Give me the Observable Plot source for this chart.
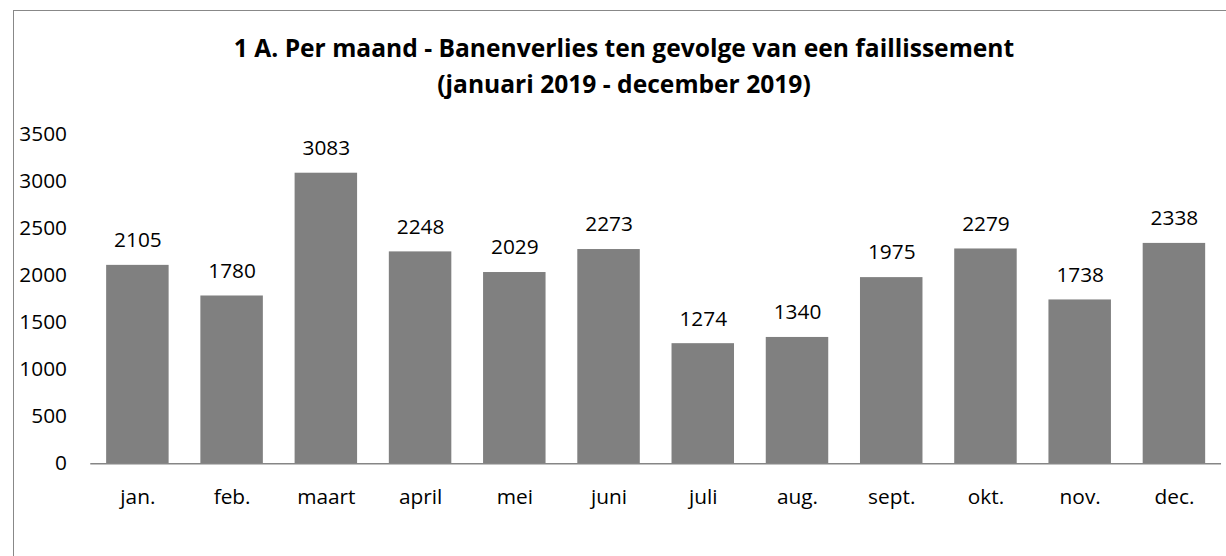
<!DOCTYPE html>
<html>
<head>
<meta charset="utf-8">
<script src="https://cdn.jsdelivr.net/npm/d3@7"></script>
<script src="https://cdn.jsdelivr.net/npm/@observablehq/plot@0.6"></script>
<style>
  html, body { margin: 0; padding: 0; background: #fff; overflow: hidden; width: 1226px; height: 556px; }
  #frame { position: absolute; left: 13px; top: 10px; width: 1300px; height: 700px; border: 1.5px solid #888; box-sizing: border-box; }
  #title { position: absolute; left: 124px; width: 1000px; top: 30px; text-align: center; font-family: "Open Sans", sans-serif; font-weight: bold; font-size: 24.6px; line-height: 35.5px; color: #000; white-space: nowrap; }
  #chart { position: absolute; left: 0; top: 0; }
</style>
</head>
<body>
<div id="frame"></div>
<div id="chart"></div>
<div id="title">1 A. Per maand - Banenverlies ten gevolge van een faillissement<br>(januari 2019 - december 2019)</div>
<script>
const months = ["jan.", "feb.", "maart", "april", "mei", "juni", "juli", "aug.", "sept.", "okt.", "nov.", "dec."];
const values = [2105, 1780, 3083, 2248, 2029, 2273, 1274, 1340, 1975, 2279, 1738, 2338];
const yTicks = [0, 500, 1000, 1500, 2000, 2500, 3000, 3500];

const data = months.map((m, i) => ({month: m, value: values[i]}));

const chart = Plot.plot({
  width: 1236,
  height: 527,
  marginLeft: 91,
  marginRight: 5,
  marginTop: 134.5,
  marginBottom: 60,
  style: { fontFamily: "'Open Sans', sans-serif", fontSize: "21px", color: "#000", background: "transparent", overflow: "visible" },
  x: { domain: months, paddingInner: 0.333, paddingOuter: 0.1665, label: null },
  y: { domain: [0, 3500], label: null },
  marks: [
    Plot.barY(data, { x: "month", y: "value", fill: "#808080" }),
    Plot.ruleY([0], { stroke: "#868686", strokeWidth: 1.5 }),
    Plot.text(data, { x: "month", y: "value", text: d => String(d.value), dy: -25, fill: "#000", fontSize: 21 }),
    Plot.axisY({ ticks: yTicks, tickSize: 0, tickPadding: 24, tickFormat: d => String(d), fill: "#000", label: null, fontSize: 21 }),
    Plot.axisX({ tickSize: 0, tickPadding: 26, fill: "#000", label: null, fontSize: 21 })
  ]
});
document.getElementById("chart").appendChild(chart);
</script>
</body>
</html>
